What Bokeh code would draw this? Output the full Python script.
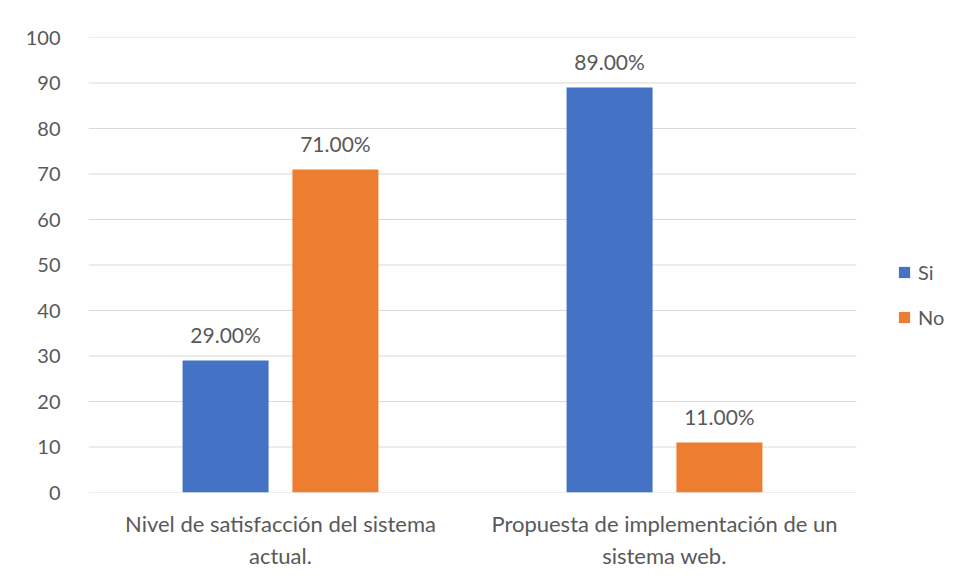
from bokeh.plotting import figure
from bokeh.models import ColumnDataSource, FixedTicker, Range1d, Legend, LegendItem
from bokeh.transform import dodge
from bokeh.core.properties import value
from bokeh.embed import file_html
from bokeh.resources import INLINE

categories = ["Nivel de satisfacción del sistema\nactual.",
              "Propuesta de implementación de un\nsistema web."]
si_values = [29, 89]
no_values = [71, 11]
si_labels = ["29.00%", "89.00%"]
no_labels = ["71.00%", "11.00%"]
y_ticks = [0, 10, 20, 30, 40, 50, 60, 70, 80, 90, 100]

FONT = "Lato"
TXT = "#595959"
BLUE = "#4472C4"
ORANGE = "#ED7D31"
GRID = "#D9D9D9"

n = len(categories)
xs = [i + 0.5 for i in range(n)]
src = ColumnDataSource(dict(x=xs, si=si_values, no=no_values, sil=si_labels, nol=no_labels))
grid_src = ColumnDataSource(dict(y=y_ticks, x0=[0] * len(y_ticks), x1=[n] * len(y_ticks)))

# frame spans 88..948 px; categories occupy 0..n (768 px), the rest hosts the legend
x_end = n * 860 / 768
p = figure(width=948, height=573, output_backend="svg", toolbar_location=None,
           x_range=Range1d(0, x_end), y_range=Range1d(0, 100),
           min_border_left=88, min_border_right=0, min_border_top=37, min_border_bottom=81)
p.outline_line_color = None
p.background_fill_color = "white"
p.border_fill_color = "white"

p.segment(x0="x0", x1="x1", y0="y", y1="y", source=grid_src, line_color=GRID, line_width=1)

r_si = p.vbar(x=dodge("x", -0.143, range=p.x_range), top="si", width=0.224, source=src,
              fill_color=BLUE, line_color=None)
r_no = p.vbar(x=dodge("x", 0.143, range=p.x_range), top="no", width=0.224, source=src,
              fill_color=ORANGE, line_color=None)

for col, lab, off in [("si", "sil", -0.143), ("no", "nol", 0.143)]:
    p.text(x=dodge("x", off, range=p.x_range), y=col, text=lab, source=src,
           text_align="center", text_baseline="alphabetic", y_offset=-26,
           text_font=value(FONT), text_font_size="21px", text_color=TXT)

p.yaxis.ticker = FixedTicker(ticks=y_ticks)
p.yaxis.axis_line_color = None
p.yaxis.major_tick_line_color = None
p.yaxis.minor_tick_line_color = None
p.yaxis.major_label_text_font = FONT
p.yaxis.major_label_text_font_size = "20px"
p.yaxis.major_label_text_color = TXT
p.yaxis.major_label_standoff = 22

p.xaxis.ticker = FixedTicker(ticks=xs)
p.xaxis.major_label_overrides = {x: c for x, c in zip(xs, categories)}
p.xaxis.axis_line_color = None
p.xaxis.major_tick_line_color = None
p.xaxis.minor_tick_line_color = None
p.xaxis.major_label_text_font = FONT
p.xaxis.major_label_text_font_size = "22px"
p.xaxis.major_label_text_color = TXT
p.xaxis.major_label_standoff = 11

p.xgrid.grid_line_color = None
p.ygrid.grid_line_color = None

legend = Legend(items=[LegendItem(label="Si", renderers=[r_si]),
                       LegendItem(label="No", renderers=[r_no])],
                location=(809, 163), orientation="vertical",
                glyph_width=14, glyph_height=14, label_height=20,
                spacing=21, padding=0, margin=0, label_standoff=7,
                label_text_font=FONT, label_text_font_size="20px", label_text_color=TXT,
                border_line_color=None, background_fill_alpha=0)
p.add_layout(legend)

open("out.html", "w").write(file_html(p, INLINE))
